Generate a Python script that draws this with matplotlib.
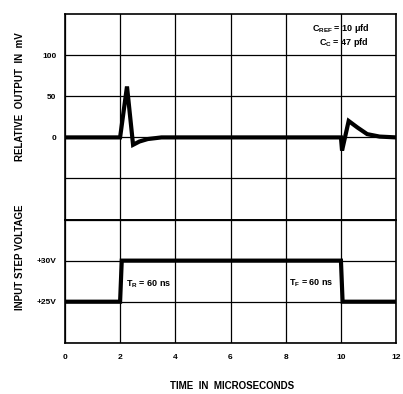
import matplotlib
matplotlib.use("Agg")
import matplotlib.pyplot as plt

plt.rcParams['font.family'] = ['Liberation Sans', 'DejaVu Sans']
plt.rcParams['font.weight'] = 'bold'
plt.rcParams['mathtext.fontset'] = 'custom'
plt.rcParams['mathtext.rm'] = 'Liberation Sans:bold'
plt.rcParams['mathtext.it'] = 'Liberation Sans:bold'

# relative output (mV) vs time (us)
out_t = [0, 2.0, 2.25, 2.47, 2.7, 3.0, 3.5, 10.0, 10.04, 10.28, 10.6, 10.95, 11.4, 12.0]
out_mv = [0, 0, 62, -9, -5, -2, 0, 0, -16, 20, 12, 4, 1, 0]

# input step voltage vs time (us)
in_t = [0, 2.0, 2.06, 10.0, 10.06, 12.0]
in_v = [25, 25, 30, 30, 25, 25]

x_ticks = [0, 2, 4, 6, 8, 10, 12]
mv_grid = [-100, -50, 0, 50, 100]
mv_labels = ['', '', '0', '50', '100']
v_grid = [20, 25, 30, 35]
v_labels = ['', '+25V', '+30V', '']

fig = plt.figure(figsize=(4.03, 3.94), dpi=100)
gs = fig.add_gridspec(2, 1, height_ratios=[5, 3], hspace=0,
                      left=0.161, right=0.983, bottom=0.130, top=0.964)
ax1 = fig.add_subplot(gs[0])
ax2 = fig.add_subplot(gs[1], sharex=ax1)

for ax in (ax1, ax2):
    ax.set_xlim(0, 12)
    ax.set_xticks(x_ticks)
    ax.grid(True, color='black', linewidth=0.9)
    ax.tick_params(length=0, labelsize=6, pad=6)
    for s in ax.spines.values():
        s.set_linewidth(1.2)

ax1.set_ylim(-100, 150)
ax1.set_yticks(mv_grid)
ax1.set_yticklabels(mv_labels)
ax1.tick_params(labelbottom=False)
ax1.plot(out_t, out_mv, color='black', linewidth=3.0, solid_joinstyle='miter')

ax2.set_ylim(20, 35)
ax2.set_yticks(v_grid)
ax2.set_yticklabels(v_labels)
ax2.plot(in_t, in_v, color='black', linewidth=3.0, solid_joinstyle='miter')
ax2.tick_params(axis='x', pad=8)

ax1.text(10.0, 133, r'C$_{\rm REF}$ = 10 $\mu$fd', fontsize=6.5, ha='center', va='center')
ax1.text(10.1, 115, r'C$_{\rm C}$ = 47 pfd', fontsize=6.5, ha='center', va='center')
ax2.text(3.05, 27.1, r'T$_{\rm R}$ = 60 ns', fontsize=6.5, ha='center', va='center')
ax2.text(8.93, 27.2, r'T$_{\rm F}$ = 60 ns', fontsize=6.5, ha='center', va='center')

fig.text(20 / 403, 1 - 97 / 394, 'RELATIVE  OUTPUT  IN  mV', rotation=90,
         fontsize=7, ha='center', va='center')
fig.text(20 / 403, 1 - 257 / 394, 'INPUT STEP VOLTAGE', rotation=90,
         fontsize=7, ha='center', va='center')
fig.text(232 / 403, 1 - 386 / 394, 'TIME  IN  MICROSECONDS',
         fontsize=7, ha='center', va='center')

fig.savefig('out.png', dpi=100)
